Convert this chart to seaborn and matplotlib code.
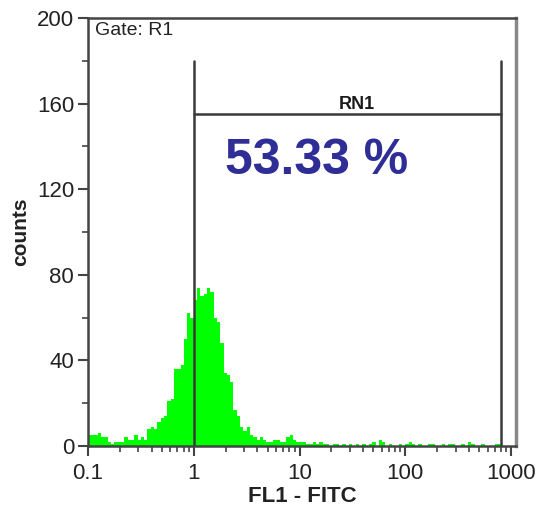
import numpy as np
import pandas as pd
import matplotlib
matplotlib.use("Agg")
import matplotlib.pyplot as plt
import seaborn as sns

# ---- data ----
x_min_exp, x_max_exp = -1, 3           # 0.1 .. 1000 (log10)
n_bins = 128
counts = [
    5, 5, 5, 6, 4, 4, 2, 1, 2, 2,
    2, 4, 3, 3, 5, 3, 4, 3, 8, 9,
    8, 11, 13, 14, 21, 22, 36, 36, 38, 50,
    62, 60, 68, 74, 70, 71, 74, 72, 60, 58,
    48, 34, 33, 30, 17, 14, 9, 7, 9, 5,
    4, 3, 4, 3, 2, 2, 3, 3, 2, 2,
    4, 5, 3, 2, 2, 2, 1, 1, 2, 1,
    2, 1, 1, 0, 1, 1, 0, 1, 0, 1,
    0, 1, 0, 1, 0, 1, 2, 0, 3, 2,
    0, 1, 0, 0, 1, 0, 1, 2, 1, 0,
    1, 0, 0, 1, 1, 0, 0, 1, 0, 1,
    1, 0, 0, 1, 0, 2, 1, 0, 0, 1,
    0, 0, 0, 1, 1, 0, 0, 0,
]
x_tick_labels = ["0.1", "1", "10", "100", "1000"]
y_ticks = [0, 40, 80, 120, 160, 200]
gate_lo, gate_hi = 1.0, 800.0
gate_level, gate_top = 155, 180
gate_name = "RN1"
gate_pct = "53.33 %"
gate_text = "Gate: R1"
x_label = "FL1 - FITC"
y_label = "counts"

# ---- build ----
edges = np.linspace(x_min_exp, x_max_exp, n_bins + 1)
centers = (edges[:-1] + edges[1:]) / 2
df = pd.DataFrame({"logx": centers, "n": counts})

sns.set_style("white")
plt.rcParams["font.family"] = ["Liberation Sans", "DejaVu Sans"]

fig = plt.figure(figsize=(5.40, 5.07), dpi=100)
ax = fig.add_axes([88 / 540, 1 - 446 / 507, (516 - 88) / 540, (446 - 18) / 507])

sns.histplot(data=df, x="logx", weights="n", bins=list(edges), color="#00ff00",
             alpha=1.0, linewidth=0, ax=ax)

ax.set_xlim(-1, 3 + 5 / 106.5)
ax.set_ylim(0, 200)

# gate
lg_lo, lg_hi = np.log10(gate_lo), np.log10(gate_hi)
gcol = "#3a3a3a"
ax.plot([lg_lo, lg_lo], [0, gate_top], color=gcol, lw=1.8, zorder=5)
ax.plot([lg_hi, lg_hi], [0, gate_top], color=gcol, lw=1.8, zorder=5)
ax.plot([lg_lo, lg_hi], [gate_level, gate_level], color=gcol, lw=1.8, zorder=5)
ax.text(1.545, gate_level + 0.5, gate_name, ha="center", va="bottom",
        fontsize=13, fontweight="bold", color="#1a1a1a")
ax.text(1.16, 133, gate_pct, ha="center", va="center", fontsize=36,
        fontweight="bold", color="#2e2e96")
ax.text(0.016, 0.99, gate_text, transform=ax.transAxes, ha="left", va="top",
        fontsize=14, color="#222222")

# ticks
major = np.arange(x_min_exp, x_max_exp + 1)
ax.set_xticks(major)
ax.set_xticklabels(x_tick_labels)
minor = [d + np.log10(k) for d in range(x_min_exp, x_max_exp) for k in range(2, 10)]
ax.set_xticks(minor, minor=True)
ax.set_yticks(y_ticks)
ax.set_yticks([20, 60, 100, 140, 180], minor=True)
ax.tick_params(axis="both", which="major", direction="out", length=7, width=1.5,
               color="#444444", labelsize=16, labelcolor="#222222", pad=3,
               bottom=True, left=True)
ax.tick_params(axis="both", which="minor", direction="out", length=4, width=1.2,
               color="#444444", bottom=True, left=True)
ax.tick_params(axis="x", which="major", pad=5)

for s in ["left", "bottom", "top"]:
    ax.spines[s].set_color("#444444")
    ax.spines[s].set_linewidth(1.8)
ax.spines["right"].set_color("#888888")
ax.spines["right"].set_linewidth(2.5)

ax.set_xlabel(x_label, fontsize=16, fontweight="bold", color="#222222", labelpad=2)
ax.set_ylabel(y_label, fontsize=15, fontweight="bold", color="#222222", labelpad=5)

fig.savefig("out.png", dpi=100)
